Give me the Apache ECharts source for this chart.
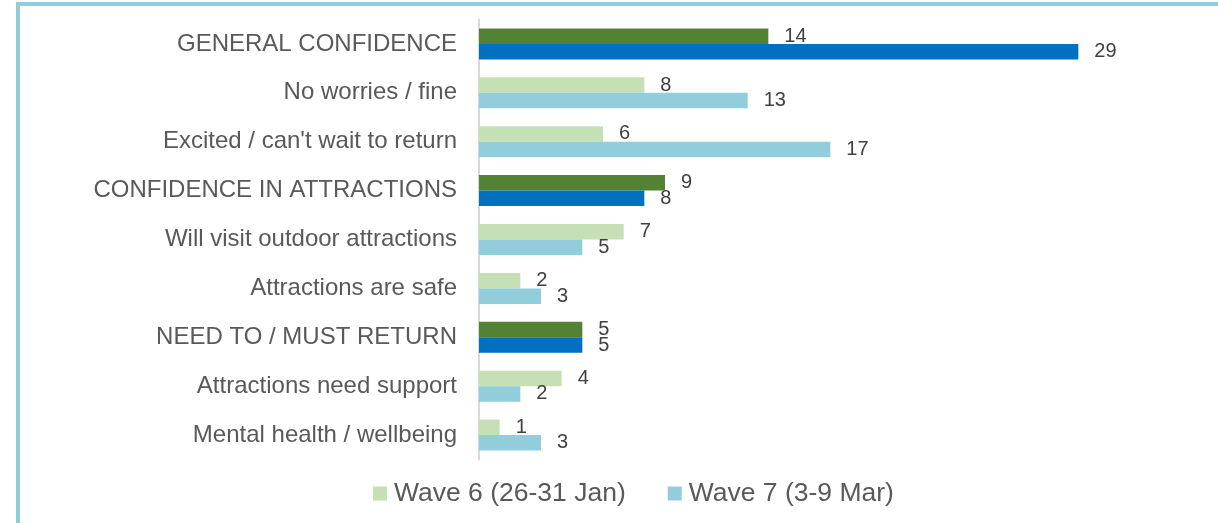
<!DOCTYPE html>
<html>
<head>
<meta charset="utf-8">
<script src="https://cdn.jsdelivr.net/npm/echarts@6/dist/echarts.min.js"></script>
<style>
  html, body { margin: 0; padding: 0; background: #fff; }
  #frame {
    position: absolute; left: 16px; top: 2px; width: 1400px; height: 800px;
    border-top: 4px solid #92CDDC; border-left: 4px solid #92CDDC;
  }
  #main { position: absolute; left: 0; top: 0; width: 1218px; height: 523px; }
</style>
</head>
<body>
<div id="frame"></div>
<div id="main"></div>
<script>
// categories, top to bottom
const categories = [
  'GENERAL CONFIDENCE',
  'No worries / fine',
  "Excited / can't wait to return",
  'CONFIDENCE IN ATTRACTIONS',
  'Will visit outdoor attractions',
  'Attractions are safe',
  'NEED TO / MUST RETURN',
  'Attractions need support',
  'Mental health / wellbeing'
]
const wave6 = [14, 8, 6, 9, 7, 2, 5, 4, 1]
const wave7 = [29, 13, 17, 8, 5, 3, 5, 2, 3]
// rows that are group headings (drawn darker)
const headerRows = [0, 3, 6]

const seriesNames = ['Wave 6 (26-31 Jan)', 'Wave 7 (3-9 Mar)']
const lightColors = ['#C5E0B4', '#92CDDC']
const darkColors = ['#548235', '#0070C0']

function buildData (values, s) {
  return values.map(function (v, i) {
    if (headerRows.indexOf(i) >= 0) {
      return { value: v, itemStyle: { color: darkColors[s] } }
    }
    return v
  })
}

let mychart = echarts.init(document.getElementById('main'))
let option = {
  backgroundColor: 'transparent',
  animation: false,
  grid: {
    left: 479,
    top: 19.5,
    width: 620,
    height: 440
  },
  legend: {
    data: seriesNames,
    bottom: 11,
    left: 368,
    icon: 'rect',
    itemWidth: 14,
    itemHeight: 14,
    itemGap: 42,
    textStyle: {
      color: '#595959',
      fontSize: 26.5,
      padding: [0, 0, 0, 2],
      fontFamily: 'Liberation Sans, Arial, sans-serif'
    }
  },
  xAxis: {
    type: 'value',
    min: 0,
    max: 30,
    show: false
  },
  yAxis: {
    type: 'category',
    data: categories,
    inverse: true,
    axisLine: { show: true, lineStyle: { color: '#D9D9D9', width: 2 } },
    axisTick: { show: false },
    axisLabel: {
      color: '#595959',
      fontSize: 24,
      margin: 22,
      fontFamily: 'Liberation Sans, Arial, sans-serif'
    }
  },
  series: [0, 1].map(function (s) {
    return {
      name: seriesNames[s],
      type: 'bar',
      barWidth: 15.5,
      barGap: '0%',
      color: lightColors[s],
      data: buildData(s === 0 ? wave6 : wave7, s),
      label: {
        show: true,
        position: 'right',
        distance: 16,
        color: '#404040',
        fontSize: 20,
        fontFamily: 'Liberation Sans, Arial, sans-serif'
      }
    }
  })
}
mychart.setOption(option)
</script>
</body>
</html>
